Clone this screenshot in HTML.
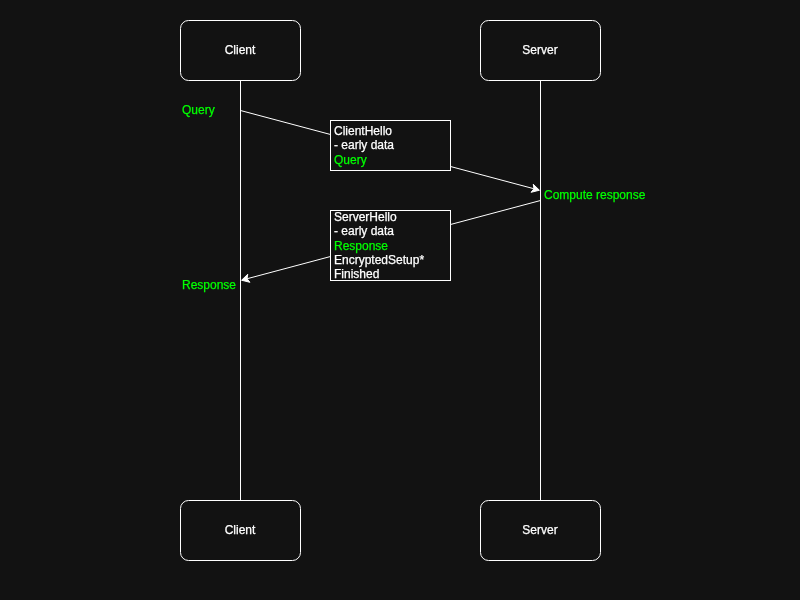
<!DOCTYPE html>
<html><head><meta charset="utf-8">
<style>
html,body{margin:0;padding:0;width:800px;height:600px;overflow:hidden;background:#121212;}
svg{position:absolute;left:0;top:0;will-change:transform;}
text{font-family:"Liberation Sans",sans-serif;font-size:12px;}

.w{fill:#ffffff;stroke:#ffffff;stroke-width:0.25;}
.g{fill:#00ff00;stroke:#00ff00;stroke-width:0.25;}
</style></head>
<body>
<svg width="800" height="600" viewBox="0 0 800 600" xmlns="http://www.w3.org/2000/svg">
<rect x="0" y="0" width="800" height="600" fill="#121212"/>
<!-- lifelines -->
<path d="M240.5 80.5 V500.5" stroke="#fff" stroke-width="1" fill="none"/>
<path d="M540.5 80.5 V500.5" stroke="#fff" stroke-width="1" fill="none"/>
<!-- boxes -->
<rect x="180.5" y="20.5" width="120" height="60" rx="8" ry="8" fill="#121212" stroke="#fff"/>
<rect x="480.5" y="20.5" width="120" height="60" rx="8" ry="8" fill="#121212" stroke="#fff"/>
<rect x="180.5" y="500.5" width="120" height="60" rx="8" ry="8" fill="#121212" stroke="#fff"/>
<rect x="480.5" y="500.5" width="120" height="60" rx="8" ry="8" fill="#121212" stroke="#fff"/>
<!-- edges -->
<path d="M240.5 110.5 L533.98 188.76" stroke="#fff" fill="none"/>
<path d="M539.42 190.21 L531.10 192.31 L533.98 188.76 L533.25 184.25 Z" fill="#fff" stroke="#fff"/>
<path d="M540.5 200.5 L247.02 278.76" stroke="#fff" fill="none"/>
<path d="M241.58 280.21 L247.75 274.25 L247.02 278.76 L249.90 282.31 Z" fill="#fff" stroke="#fff"/>
<!-- message boxes -->
<rect x="330.5" y="120.5" width="120" height="50" fill="#121212" stroke="#fff"/>
<rect x="330.5" y="210.5" width="120" height="70" fill="#121212" stroke="#fff"/>
<g class="t">
<text class="w" x="240" y="53.8" text-anchor="middle">Client</text>
<text class="w" x="540" y="53.8" text-anchor="middle">Server</text>
<text class="w" x="240" y="533.8" text-anchor="middle">Client</text>
<text class="w" x="540" y="533.8" text-anchor="middle">Server</text>
<text class="w" x="334" y="135">ClientHello</text>
<text class="w" x="334" y="149.4">- early data</text>
<text class="g" x="334" y="163.8">Query</text>
<text class="w" x="334" y="220.8">ServerHello</text>
<text class="w" x="334" y="235.2">- early data</text>
<text class="g" x="334" y="249.6">Response</text>
<text class="w" x="334" y="264">EncryptedSetup*</text>
<text class="w" x="334" y="278.4">Finished</text>
<text class="g" x="182" y="113.5">Query</text>
<text class="g" x="182" y="288.8">Response</text>
<text class="g" x="544" y="199">Compute response</text>
</g>
</svg>
</body></html>
